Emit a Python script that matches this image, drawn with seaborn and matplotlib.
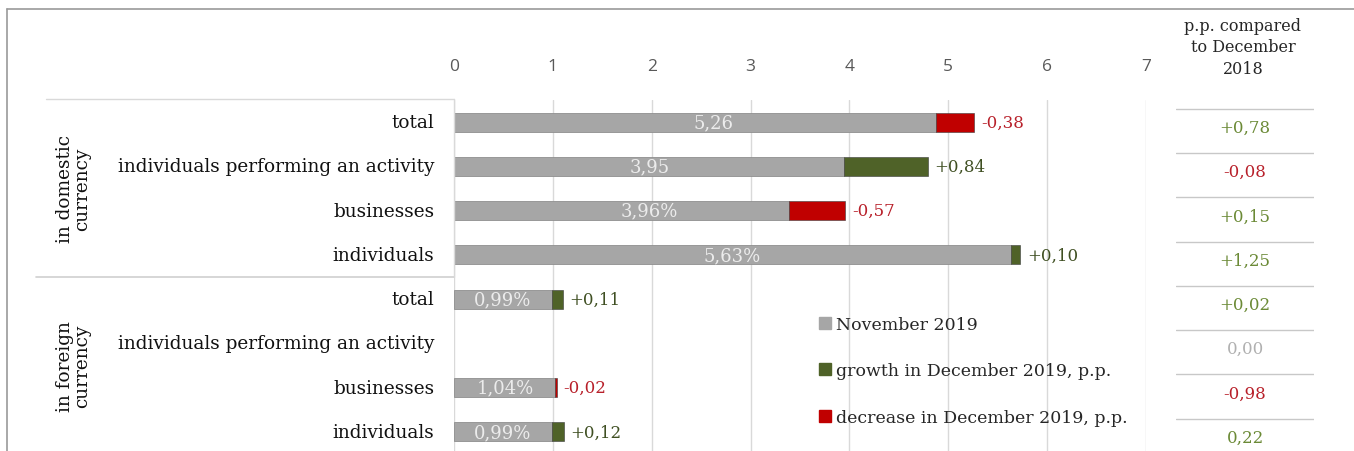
import numpy as np
import pandas as pd
import matplotlib.pyplot as plt
import seaborn as sns
from matplotlib.lines import Line2D
from matplotlib.patches import Patch

# ---- data ----
groups = ["in domestic\ncurrency", "in foreign\ncurrency"]
categories = ["total", "individuals performing an activity", "businesses", "individuals",
              "total", "individuals performing an activity", "businesses", "individuals"]
nov_2019 = [5.26, 3.95, 3.96, 5.63, 0.99, np.nan, 1.04, 0.99]
change_dec_2019 = [-0.38, 0.84, -0.57, 0.10, 0.11, np.nan, -0.02, 0.12]
nov_labels = ["5,26", "3,95", "3,96%", "5,63%", "0,99%", "", "1,04%", "0,99%"]
change_labels = ["-0,38", "+0,84", "-0,57", "+0,10", "+0,11", "", "-0,02", "+0,12"]
vs_dec_2018 = ["+0,78", "-0,08", "+0,15", "+1,25", "+0,02", "0,00", "-0,98", "0,22"]
vs_dec_2018_sign = [1, -1, 1, 1, 1, 0, -1, 1]

GRAY = "#a6a6a6"
GREEN = "#4f6228"
RED = "#c00000"
TXT_GREEN = "#6b8a36"
TXT_RED = "#b8202a"

sns.set_style("white")
plt.rcParams["font.family"] = ["DejaVu Serif"]

df = pd.DataFrame({"cat": categories, "nov": nov_2019, "chg": change_dec_2019})
df["row"] = np.arange(len(df))
df["base"] = np.where(df["chg"] < 0, df["nov"] + df["chg"], df["nov"])
df["seg"] = df["chg"].abs()
df["end"] = df["base"] + df["seg"]

fig = plt.figure(figsize=(13.54, 4.52), dpi=100)
ax = fig.add_axes([454 / 1354, 1 - 455 / 452, 692 / 1354, 354 / 452])

bh = 0.43
sns.barplot(data=df, x="base", y="row", orient="h", order=df["row"], color=GRAY,
            width=bh, edgecolor="#8f8f8f", linewidth=0.6, ax=ax)
seg_colors = np.where(df["chg"] < 0, RED, GREEN)
for r, b, s, c in zip(df["row"], df["base"], df["seg"], seg_colors):
    if np.isnan(s):
        continue
    ax.barh(r, s, left=b, height=bh, color=c, edgecolor="#3a3a3a", linewidth=0.4)

ax.set_xlim(0, 7)
ax.set_ylim(7.5, -0.5)
ax.set_xticks(range(8))
ax.xaxis.tick_top()
ax.tick_params(axis="x", length=0, pad=19, labelsize=12.5, labelcolor="#595959")
for t in ax.get_xticklabels():
    t.set_fontfamily(["Open Sans", "DejaVu Sans"])
ax.set_yticks([])
ax.set_xlabel("")
ax.set_ylabel("")
for sp in ax.spines.values():
    sp.set_visible(False)
ax.grid(axis="x", color="#d9d9d9", linewidth=1)
ax.set_axisbelow(True)

# value labels
for r, n, lab, e, cl, c in zip(df["row"], df["nov"], nov_labels, df["end"], change_labels, df["chg"]):
    if np.isnan(n):
        continue
    ax.text(n / 2, r, lab, ha="center", va="center", fontsize=13, color="#ececec")
    ax.text(e + 0.07, r, cl, ha="left", va="center", fontsize=12,
            color=TXT_RED if c < 0 else "#3f4f22")

# category labels
for r, cat in zip(df["row"], categories):
    ax.text(-0.2, r, cat, ha="right", va="center", fontsize=13.3, color="#111111",
            clip_on=False)

# group labels
for i, g in enumerate(groups):
    ax.text(-3.85, 1.5 + 4 * i, g, rotation=90, ha="center", va="center",
            fontsize=13.3, color="#111111", linespacing=0.95, clip_on=False)

# frame lines around domestic group block
xl = -4.13
ax.add_line(Line2D([xl, 0], [-0.52, -0.52], color="#d9d9d9", lw=1, clip_on=False))
ax.add_line(Line2D([xl - 0.1, 0], [3.5, 3.5], color="#d0d0d0", lw=1.2, clip_on=False))
ax.add_line(Line2D([0, 0], [-0.52, 3.5], color="#d9d9d9", lw=1, clip_on=False))

# legend
handles = [Patch(color=GRAY, label="November 2019"),
           Patch(color=GREEN, label="growth in December 2019, p.p."),
           Patch(color=RED, label="decrease in December 2019, p.p.")]
ax.legend(handles=handles, loc="lower left", bbox_to_anchor=(0.505, 0.035), frameon=False,
          fontsize=12.5, handlelength=0.7, handleheight=0.7, handletextpad=0.3,
          labelspacing=1.7)

# right-hand table: p.p. compared to December 2018
tab = fig.add_axes([1176 / 1354, 1 - 455 / 452, 138 / 1354, 354 / 452])
tab.set_xlim(0, 1)
tab.set_ylim(7.5, -0.5)
tab.axis("off")
for r, v, s in zip(range(len(vs_dec_2018)), vs_dec_2018, vs_dec_2018_sign):
    col = TXT_GREEN if s > 0 else (TXT_RED if s < 0 else "#b0b0b0")
    tab.text(0.5, r + 0.12, v, ha="center", va="center", fontsize=12, color=col)
for yb in np.arange(-0.3, 8, 1.0):
    tab.axhline(yb, color="#c8c8c8", lw=1)
fig.text(1243 / 1354, 1 - 48 / 452, "p.p. compared\nto December\n2018", ha="center",
         va="center", fontsize=11.5, color="#262626", linespacing=1.35)

# outer border (top and left)
fig.add_artist(Line2D([7 / 1354, 7 / 1354], [0, 1 - 10 / 452], color="#9a9a9a", lw=1.2,
                      transform=fig.transFigure))
fig.add_artist(Line2D([7 / 1354, 1], [1 - 10 / 452, 1 - 10 / 452], color="#9a9a9a", lw=1.2,
                      transform=fig.transFigure))

fig.savefig("out.png", dpi=100)
